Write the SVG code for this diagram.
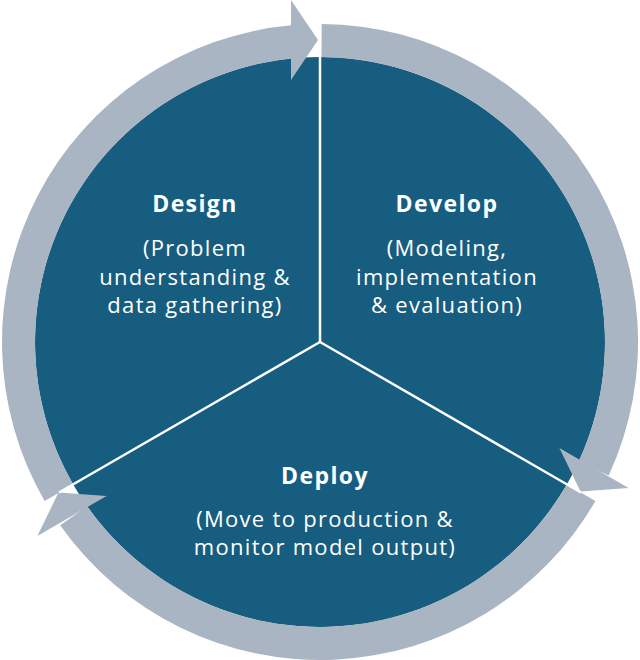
<svg xmlns="http://www.w3.org/2000/svg" width="640" height="660" viewBox="0 0 640 660">
<style>
.sector{fill:#175d7f}
.ring{fill:#a9b5c2}
.sep{stroke:#ffffff;stroke-width:2.5;stroke-linecap:butt;fill:none}
.title{font-family:"Open Sans","Liberation Sans",sans-serif;font-weight:bold;font-size:23px;letter-spacing:1.4px;fill:#ffffff;text-anchor:middle}
.body{font-family:"Open Sans","Liberation Sans",sans-serif;font-size:22px;letter-spacing:1.3px;fill:#ffffff;text-anchor:middle}
</style>
<rect width="640" height="660" fill="#ffffff"/>
<g id="design">
<path class="sector" d="M320 342 L73.2 484.5 A285 285 0 0 1 320 57 Z"/>
<text class="title" x="195" y="212">Design</text>
<text class="body" x="195" y="256">(Problem</text>
<text class="body" x="195" y="285">understanding &amp;</text>
<text class="body" x="195" y="313">data gathering)</text>
</g>
<g id="develop">
<path class="sector" d="M320 342 L320 57 A285 285 0 0 1 566.8 484.5 Z"/>
<text class="title" x="447" y="212">Develop</text>
<text class="body" x="447" y="256">(Modeling,</text>
<text class="body" x="447" y="285">implementation</text>
<text class="body" x="447" y="313">&amp; evaluation)</text>
</g>
<g id="deploy">
<path class="sector" d="M320 342 L566.8 484.5 A285 285 0 0 1 73.2 484.5 Z"/>
<text class="title" x="325" y="484">Deploy</text>
<text class="body" x="325" y="527">(Move to production &amp;</text>
<text class="body" x="325" y="555">monitor model output)</text>
</g>
<g id="connectors">
<path class="ring" d="M44.6 501 A318 318 0 0 1 291.2 25.3 L294.2 58.2 A285 285 0 0 0 73.2 484.5 Z"/>
<polygon class="ring" points="291,0 318,40 291,80"/>
<path class="ring" d="M321.7 24 A318 318 0 0 1 608.7 475.4 L578.7 461.6 A285 285 0 0 0 321.5 57 Z"/>
<polygon class="ring" points="559.4,448.1 580.5,491.5 628.6,488.1"/>
<path class="ring" d="M595.4 501 A318 318 0 0 1 60.2 525.3 L87.1 506.3 A285 285 0 0 0 566.8 484.5 Z"/>
<polygon class="ring" points="106.6,495.9 58.5,492.5 37.4,535.9"/>
</g>
<g id="separators">
<line class="sep" x1="320" y1="342" x2="320" y2="57"/>
<line class="sep" x1="320" y1="342" x2="581" y2="492.5"/>
<line class="sep" x1="320" y1="342" x2="59" y2="492.5"/>
</g>
</svg>
